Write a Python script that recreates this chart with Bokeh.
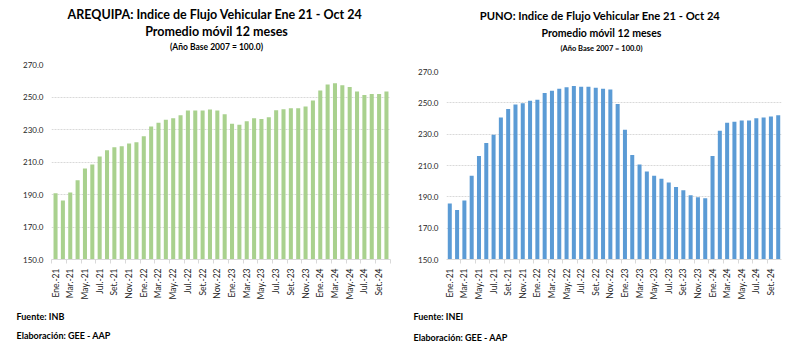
from bokeh.plotting import figure
from bokeh.layouts import row, column
from bokeh.models import Range1d, FixedTicker, NumeralTickFormatter, ColumnDataSource
from bokeh.core.properties import value
from bokeh.embed import file_html
from bokeh.resources import INLINE

months = []
for yy in ["21", "22", "23", "24"]:
    for m in ["Ene.", "Feb.", "Mar.", "Abr.", "May.", "Jun.", "Jul.", "Ago.", "Set.", "Oct.", "Nov.", "Dic."]:
        months.append(f"{m}-{yy}")
months = months[:46]

arequipa = [190.8, 186.3, 191.2, 198.8, 206.0, 208.5, 213.4, 217.3, 219.1, 219.7,
            221.4, 222.2, 225.9, 231.8, 234.1, 236.0, 237.0, 238.8, 241.7, 241.7,
            241.7, 242.3, 241.7, 239.4, 233.5, 232.9, 235.1, 237.0, 236.4, 237.6,
            241.9, 242.5, 243.1, 243.1, 244.2, 247.8, 254.0, 257.7, 258.5, 257.3,
            256.1, 253.4, 251.3, 251.9, 251.9, 253.4]

puno = [185.7, 181.6, 187.6, 203.5, 216.1, 224.3, 229.7, 240.7, 246.0, 249.0,
        249.8, 251.3, 252.0, 256.2, 257.7, 259.0, 260.0, 260.7, 260.2, 260.2,
        259.6, 259.0, 258.5, 249.2, 232.8, 216.7, 210.7, 206.1, 203.5, 201.6,
        199.1, 196.3, 194.2, 191.0, 189.7, 189.1, 216.1, 232.2, 237.3, 237.9,
        238.8, 238.8, 240.1, 240.7, 241.3, 242.0]

y_ticks = [150, 170, 190, 210, 230, 250, 270]

FONT = "Lato"


def text_panel(width, height, b_left, b_right):
    p = figure(width=width, height=height, output_backend="svg", toolbar_location=None,
               y_range=Range1d(height, 0),
               x_axis_location=None, y_axis_location=None, title=None,
               min_border=0, min_border_left=0, min_border_right=0,
               min_border_top=0, min_border_bottom=0)
    free = True
    try:
        p.frame_align = False
    except Exception:
        free = False
    if free:
        p.x_range = Range1d(0, width)
    else:
        p.x_range = Range1d(b_left, width - b_right)
    p.outline_line_color = None
    p.xgrid.visible = False
    p.ygrid.visible = False
    return p


def header(width, height, b_left, b_right, titles, sizes, cx, ys):
    p = text_panel(width, height, b_left, b_right)
    for t, s, y in zip(titles, sizes, ys):
        p.text(x=[cx], y=[y], text=[t], text_align="center", text_baseline="middle",
               text_font=value(FONT), text_font_style="bold", text_font_size=s,
               text_color="black")
    return p


def footer(width, height, b_left, b_right, texts, x, ys):
    p = text_panel(width, height, b_left, b_right)
    for t, y in zip(texts, ys):
        p.text(x=[x], y=[y], text=[t], text_align="left", text_baseline="middle",
               text_font=value(FONT), text_font_style="bold", text_font_size="9px",
               text_color="black")
    return p


def chart(values, color, width, height, b_left, b_right, xr):
    p = figure(title=None, width=width, height=height, output_backend="svg", toolbar_location=None,
               x_range=Range1d(*xr), y_range=Range1d(150, 270),
               min_border_left=b_left, min_border_right=b_right,
               min_border_top=8, min_border_bottom=45)
    p.outline_line_color = None
    xs = list(range(len(values)))
    src = ColumnDataSource(dict(x=xs, top=values))
    p.vbar(x="x", top="top", bottom=150, width=0.55, source=src, fill_color=color, line_color=None)
    p.xgrid.grid_line_color = None
    p.ygrid.grid_line_color = "#D9D9D9"
    p.ygrid.grid_line_dash = "2 1"
    p.ygrid.ticker = FixedTicker(ticks=y_ticks)
    p.yaxis.ticker = FixedTicker(ticks=y_ticks)
    p.yaxis.formatter = NumeralTickFormatter(format="0.0")
    p.yaxis.axis_line_color = None
    p.yaxis.major_tick_line_color = None
    p.yaxis.minor_tick_line_color = None
    p.yaxis.major_tick_out = 0
    p.yaxis.major_label_text_font = FONT
    p.yaxis.major_label_text_font_size = "8px"
    p.yaxis.major_label_text_color = "#262626"
    p.yaxis.major_label_standoff = 8
    p.xaxis.ticker = FixedTicker(ticks=xs[::2], minor_ticks=[i - 0.5 for i in xs[::2]] + [xs[-1] + 0.5])
    p.xaxis.major_label_overrides = {i: months[i] for i in xs}
    p.xaxis.major_label_orientation = 1.5708
    p.xaxis.major_label_text_font = FONT
    p.xaxis.major_label_text_font_size = "8.5px"
    p.xaxis.major_label_text_color = "#262626"
    p.xaxis.axis_line_color = "#D9D9D9"
    p.xaxis.major_tick_line_color = None
    p.xaxis.major_tick_out = 0
    p.xaxis.minor_tick_line_color = "#D9D9D9"
    p.xaxis.minor_tick_out = 4
    p.xaxis.minor_tick_in = 0
    p.xaxis.major_label_standoff = 5
    return p


left = column(
    header(398, 56, 51, 8, ["AREQUIPA:  Indice de Flujo Vehicular Ene 21 - Oct 24", "Promedio móvil 12 meses",
                            "(Año Base 2007 = 100.0)"], ["12.5px", "12.5px", "8.5px"], 216, [14, 31, 46]),
    chart(arequipa, "#A9D18E", 398, 248, 51, 8, (-0.55, 45.55)),
    footer(398, 52, 51, 8, ["Fuente: INB", "Elaboración: GEE - AAP"], 16, [12, 31]),
)
right = column(
    header(397, 63, 48, 14, ["PUNO:  Indice de Flujo Vehicular Ene 21 - Oct 24", "Promedio móvil 12 meses",
                             "(Año Base 2007 = 100.0)"], ["11.2px", "10.5px", "7.5px"], 203, [15, 32, 48]),
    chart(puno, "#5B9BD5", 397, 241, 48, 14, (-0.45, 45.45)),
    footer(397, 52, 48, 14, ["Fuente: INEI", "Elaboración: GEE - AAP"], 15, [12, 33]),
)

layout = row(left, right)
open("out.html", "w").write(file_html(layout, INLINE))
